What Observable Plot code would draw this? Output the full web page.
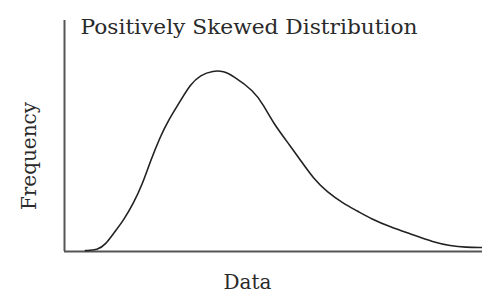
<!DOCTYPE html>
<html>
<head>
<meta charset="utf-8">
<script src="https://cdn.jsdelivr.net/npm/d3@7"></script>
<script src="https://cdn.jsdelivr.net/npm/@observablehq/plot@0.6"></script>
<style>
  html, body { margin: 0; padding: 0; background: #fff; }
  #chart { width: 482px; height: 293px; }
</style>
</head>
<body>
<div id="chart"></div>
<script>
// Curve (x: data, arbitrary units 0–100; y: frequency, 0–100)
const dataX = [5.0, 7.9, 9.8, 11.7, 14.1, 16.5, 18.7, 20.6, 23.0, 24.6, 27.8, 30.1, 32.5, 35.6, 38.0, 40.4, 45.2, 47.6, 50.0, 54.1, 56.5, 59.6, 62.9, 66.7, 70.1, 73.2, 78.0, 82.8, 88.3, 92.3, 96.0, 100];
const freqY = [0.4, 0.6, 3.0, 7.8, 13.4, 20.8, 29.4, 39.4, 50.0, 56.0, 65.4, 72.3, 76.4, 78.3, 78.1, 76.0, 69.7, 63.5, 55.4, 45.5, 39.4, 31.5, 25.6, 20.8, 17.5, 14.3, 10.6, 7.6, 4.0, 2.5, 1.8, 1.7];
const titleText = "Positively Skewed Distribution";
const xLabel = "Data";
const yLabel = "Frequency";

const pts = dataX.map((x, i) => ({x, y: freqY[i]}));
const font = "'DejaVu Serif', serif";

const chart = Plot.plot({
  width: 482,
  height: 293,
  marginLeft: 64,
  marginRight: 0,
  marginTop: 20,
  marginBottom: 42,
  x: {domain: [0, 100], axis: null},
  y: {domain: [0, 100], axis: null},
  style: {background: "#fff", fontFamily: font},
  marks: [
    Plot.ruleX([0], {y1: 0, y2: 100, stroke: "#555", strokeWidth: 2}),
    Plot.ruleY([0], {x1: 0, x2: 100, stroke: "#555", strokeWidth: 2}),
    Plot.line(pts, {x: "x", y: "y", curve: "basis", stroke: "#222", strokeWidth: 1.6}),
    Plot.text([titleText], {frameAnchor: "top-left", textAnchor: "start", lineAnchor: "bottom", dx: 16, dy: 13, fontSize: 20, fill: "#2a2a2a", className: "ttl"}),
    Plot.text([yLabel], {frameAnchor: "left", rotate: -90, textAnchor: "middle", lineAnchor: "middle", dx: -35, dy: 20, fontSize: 20, fill: "#2a2a2a"}),
    Plot.text([xLabel], {frameAnchor: "bottom", textAnchor: "middle", lineAnchor: "bottom", dx: -26, dy: 37, fontSize: 20, fill: "#2a2a2a"})
  ]
});
document.getElementById("chart").appendChild(chart);
d3.select(chart).selectAll(".ttl text").attr("textLength", 337).attr("lengthAdjust", "spacingAndGlyphs");
</script>
</body>
</html>
